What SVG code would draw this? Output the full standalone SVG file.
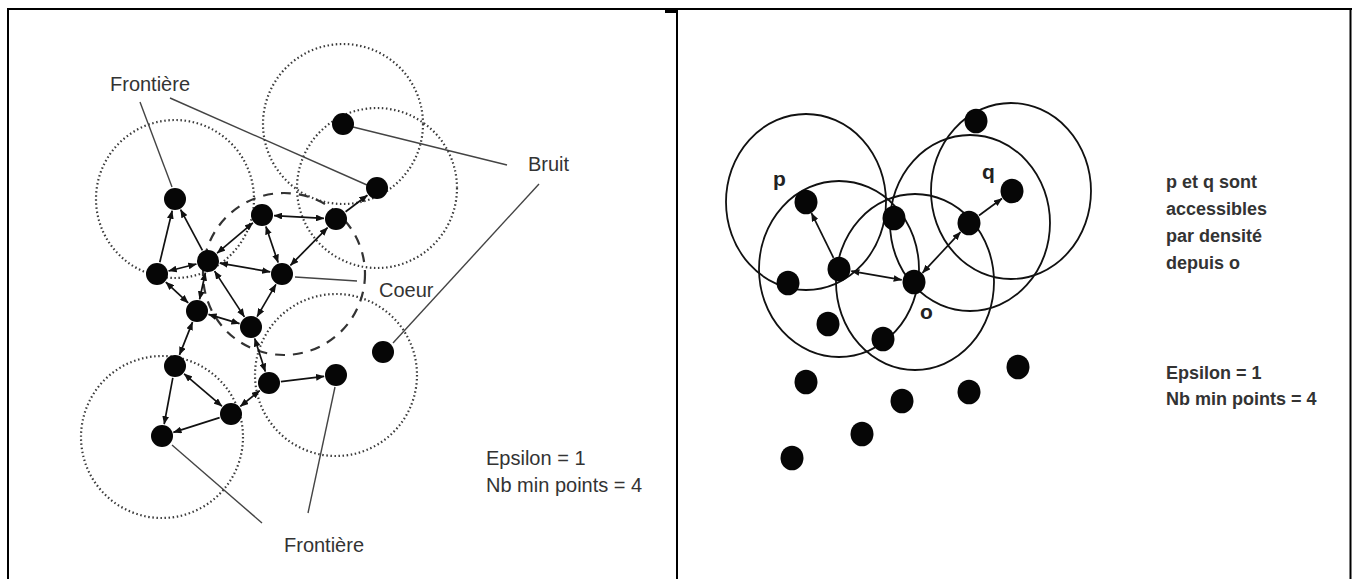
<svg xmlns="http://www.w3.org/2000/svg" width="1357" height="579" viewBox="0 0 1357 579">
<defs>
<style>
.frame{stroke:#000;stroke-width:2;fill:none}
.dot{fill:none;stroke:#3a3a3a;stroke-width:2.2;stroke-dasharray:1.5 2.6}
.dash{fill:none;stroke:#333;stroke-width:2.2;stroke-dasharray:10 8}
.eps{fill:none;stroke:#111;stroke-width:1.8}
.pt{fill:#060606}
.edge{stroke:#111;stroke-width:1.7;fill:none}
.lbl{stroke:#444;stroke-width:1.4;fill:none}
.t{font-family:"Liberation Sans",Arial,sans-serif;font-size:20px;fill:#333}
.tb{font-family:"Liberation Sans",Arial,sans-serif;font-size:18px;font-weight:bold;fill:#333}
.tl{font-family:"Liberation Sans",Arial,sans-serif;font-size:21px;font-weight:bold;fill:#222}
</style>
<marker id="ah" viewBox="0 0 10 8" refX="9.5" refY="4" markerWidth="8.5" markerHeight="6.8" markerUnits="userSpaceOnUse" orient="auto-start-reverse"><path d="M0,0 L10,4 L0,8 z" fill="#111"/></marker>
</defs>
<rect width="1357" height="579" fill="#fff"/>
<g id="frame">
<line class="frame" x1="7" y1="9" x2="1352" y2="9"/>
<line class="frame" x1="8" y1="8" x2="8" y2="579"/>
<line class="frame" x1="677" y1="8" x2="677" y2="579"/>
<line class="frame" x1="1350.5" y1="8" x2="1350.5" y2="579"/>
<line x1="665" y1="11.5" x2="677" y2="11.5" stroke="#000" stroke-width="3"/>
</g>

<!-- LEFT PANEL -->
<g id="left-neighbourhoods">
<circle class="dot" cx="343" cy="124" r="80"/>
<circle class="dot" cx="377" cy="188" r="80"/>
<circle class="dot" cx="175" cy="199" r="79"/>
<circle class="dot" cx="162" cy="437" r="81"/>
<circle class="dot" cx="336" cy="375" r="81"/>
<circle class="dash" cx="284" cy="274" r="81"/>
</g>

<g id="left-connectors">
<line class="edge" x1="159.8" y1="262.3" x2="172.2" y2="210.7" marker-end="url(#ah)"/>
<line class="edge" x1="202.4" y1="250.4" x2="180.6" y2="209.6" marker-end="url(#ah)"/>
<line class="edge" x1="168.6" y1="271" x2="196.4" y2="264" marker-start="url(#ah)" marker-end="url(#ah)"/>
<line class="edge" x1="217.1" y1="253.2" x2="252.9" y2="222.8" marker-start="url(#ah)" marker-end="url(#ah)"/>
<line class="edge" x1="274" y1="215.6" x2="324" y2="218.4" marker-start="url(#ah)" marker-end="url(#ah)"/>
<line class="edge" x1="219.8" y1="263.1" x2="270.2" y2="271.9" marker-start="url(#ah)" marker-end="url(#ah)"/>
<line class="edge" x1="265.9" y1="226.4" x2="278.1" y2="262.6" marker-start="url(#ah)" marker-end="url(#ah)"/>
<line class="edge" x1="327.6" y1="227.6" x2="290.4" y2="265.4" marker-start="url(#ah)" marker-end="url(#ah)"/>
<line class="edge" x1="345.6" y1="211.8" x2="367.4" y2="195.2" marker-end="url(#ah)"/>
<line class="edge" x1="165.8" y1="282.1" x2="188.2" y2="302.9" marker-start="url(#ah)" marker-end="url(#ah)"/>
<line class="edge" x1="205.4" y1="272.7" x2="199.6" y2="299.3" marker-start="url(#ah)" marker-end="url(#ah)"/>
<line class="edge" x1="214.6" y1="271.1" x2="244.4" y2="316.9" marker-start="url(#ah)" marker-end="url(#ah)"/>
<line class="edge" x1="275.9" y1="284.4" x2="257.1" y2="316.6" marker-start="url(#ah)" marker-end="url(#ah)"/>
<line class="edge" x1="208.5" y1="314.4" x2="239.5" y2="323.6" marker-start="url(#ah)" marker-end="url(#ah)"/>
<line class="edge" x1="192.5" y1="322.1" x2="179.5" y2="354.9" marker-start="url(#ah)" marker-end="url(#ah)"/>
<line class="edge" x1="254.7" y1="338.4" x2="265.3" y2="371.6" marker-start="url(#ah)" marker-end="url(#ah)"/>
<line class="edge" x1="280.9" y1="381.6" x2="324.1" y2="376.4" marker-end="url(#ah)"/>
<line class="edge" x1="184.1" y1="373.8" x2="221.9" y2="406.2" marker-start="url(#ah)" marker-end="url(#ah)"/>
<line class="edge" x1="259.7" y1="390.6" x2="240.3" y2="406.4" marker-start="url(#ah)" marker-end="url(#ah)"/>
<line class="edge" x1="172.8" y1="377.8" x2="164.2" y2="424.2" marker-end="url(#ah)"/>
<line class="edge" x1="219.6" y1="417.6" x2="173.4" y2="432.4" marker-end="url(#ah)"/>
</g>

<g id="left-label-lines">
<line class="lbl" x1="140" y1="102" x2="172" y2="187"/>
<line class="lbl" x1="170" y1="98" x2="367" y2="185"/>
<line class="lbl" x1="353" y1="127" x2="507" y2="165"/>
<line class="lbl" x1="539" y1="184" x2="393" y2="343"/>
<line class="lbl" x1="295" y1="277" x2="357" y2="281"/>
<line class="lbl" x1="172" y1="445" x2="262" y2="523"/>
<line class="lbl" x1="335" y1="387" x2="308" y2="513"/>
</g>

<g id="left-points">
<circle id="n-A" class="pt" cx="175" cy="199" r="11"/>
<circle id="n-B" class="pt" cx="262" cy="215" r="11"/>
<circle id="n-C" class="pt" cx="336" cy="219" r="11"/>
<circle id="n-D" class="pt" cx="377" cy="188" r="11"/>
<circle id="n-E" class="pt" cx="208" cy="261" r="11"/>
<circle id="n-F" class="pt" cx="157" cy="274" r="11"/>
<circle id="n-G" class="pt" cx="282" cy="274" r="11"/>
<circle id="n-H" class="pt" cx="197" cy="311" r="11"/>
<circle id="n-I" class="pt" cx="251" cy="327" r="11"/>
<circle id="n-J" class="pt" cx="175" cy="366" r="11"/>
<circle id="n-K" class="pt" cx="269" cy="383" r="11"/>
<circle id="n-L" class="pt" cx="336" cy="375" r="11"/>
<circle id="n-M" class="pt" cx="231" cy="414" r="11"/>
<circle id="n-N" class="pt" cx="162" cy="436" r="11"/>
<circle id="n-noise1" class="pt" cx="343" cy="124" r="11"/>
<circle id="n-noise2" class="pt" cx="383" cy="352" r="11"/>
</g>

<g id="left-labels">
<text class="t" x="110" y="91">Frontière</text>
<text class="t" x="528" y="171">Bruit</text>
<text class="t" x="379" y="297">Coeur</text>
<text class="t" x="284" y="552">Frontière</text>
<text class="t" x="486" y="465">Epsilon = 1</text>
<text class="t" x="486" y="492">Nb min points = 4</text>
</g>

<!-- RIGHT PANEL -->
<g id="right-neighbourhoods">
<ellipse class="eps" cx="806" cy="202" rx="80" ry="88"/>
<ellipse class="eps" cx="839" cy="269" rx="80" ry="88"/>
<ellipse class="eps" cx="915" cy="282" rx="79" ry="88"/>
<ellipse class="eps" cx="970" cy="223" rx="80" ry="88"/>
<ellipse class="eps" cx="1011" cy="191" rx="80" ry="88"/>
</g>

<g id="right-connectors">
<line class="edge" x1="833.5" y1="257.8" x2="811.5" y2="213.2" marker-end="url(#ah)"/>
<line class="edge" x1="851.3" y1="271.1" x2="901.7" y2="279.9" marker-start="url(#ah)" marker-end="url(#ah)"/>
<line class="edge" x1="922.5" y1="272.9" x2="960.5" y2="232.1" marker-start="url(#ah)" marker-end="url(#ah)"/>
<line class="edge" x1="979" y1="215.5" x2="1002" y2="198.5" marker-end="url(#ah)"/>
</g>

<g id="right-points">
<ellipse id="r-p" class="pt" cx="806" cy="202" rx="11.5" ry="12.3"/>
<ellipse id="r-b" class="pt" cx="894" cy="218" rx="11.5" ry="12.3"/>
<ellipse id="r-c" class="pt" cx="969" cy="223" rx="11.5" ry="12.3"/>
<ellipse id="r-e" class="pt" cx="839" cy="269" rx="11.5" ry="12.3"/>
<ellipse id="r-o" class="pt" cx="914" cy="282" rx="11.5" ry="12.3"/>
<ellipse id="r-q" class="pt" cx="1012" cy="191" rx="11.5" ry="12.3"/>
<ellipse id="r-top" class="pt" cx="976" cy="121" rx="11.5" ry="12.3"/>
<ellipse id="r-l" class="pt" cx="788" cy="283" rx="11.5" ry="12.3"/>
<ellipse id="r-m" class="pt" cx="828" cy="324" rx="11.5" ry="12.3"/>
<ellipse id="r-n" class="pt" cx="883" cy="339" rx="11.5" ry="12.3"/>
<ellipse id="r-x1" class="pt" cx="806" cy="382" rx="11.5" ry="12.3"/>
<ellipse id="r-x2" class="pt" cx="902" cy="401" rx="11.5" ry="12.3"/>
<ellipse id="r-x3" class="pt" cx="969" cy="392" rx="11.5" ry="12.3"/>
<ellipse id="r-x4" class="pt" cx="1018" cy="367" rx="11.5" ry="12.3"/>
<ellipse id="r-x5" class="pt" cx="862" cy="434" rx="11.5" ry="12.3"/>
<ellipse id="r-x6" class="pt" cx="792" cy="458" rx="11.5" ry="12.3"/>
</g>

<g id="right-labels">
<text class="tl" x="773" y="186">p</text>
<text class="tl" x="982" y="179">q</text>
<text class="tl" x="920" y="318.5">o</text>
<text class="tb" x="1166" y="188">p et q sont</text>
<text class="tb" x="1166" y="215">accessibles</text>
<text class="tb" x="1166" y="242">par densité</text>
<text class="tb" x="1166" y="268.5">depuis o</text>
<text class="tb" x="1166" y="378.5">Epsilon = 1</text>
<text class="tb" x="1166" y="405">Nb min points = 4</text>
</g>
</svg>
